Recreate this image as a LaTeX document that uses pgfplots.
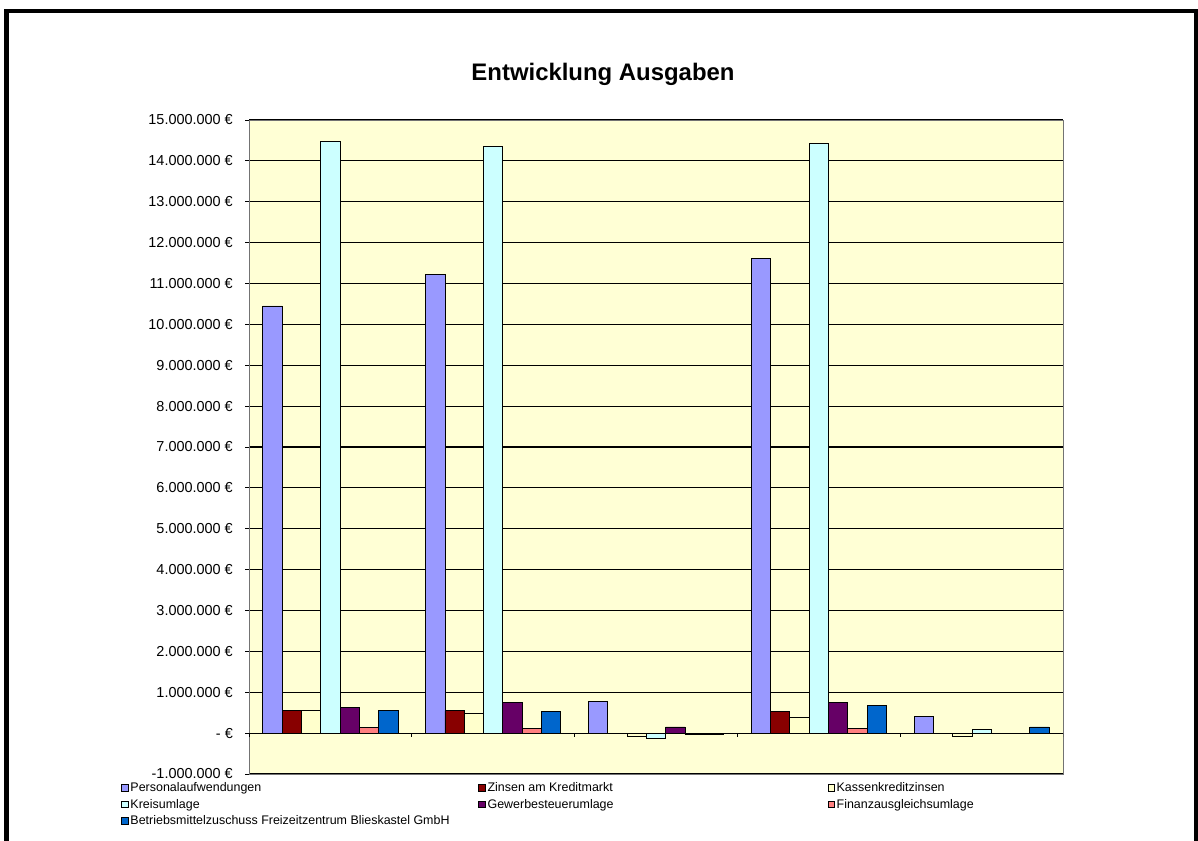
\documentclass[border=0pt]{standalone}
\usepackage{fontspec}
\setmainfont{Liberation Sans}
\usepackage{pgfplots}
\pgfplotsset{compat=1.18}

\definecolor{cPers}{HTML}{9999FF}
\definecolor{cZins}{HTML}{880000}
\definecolor{cKass}{HTML}{FFFFCC}
\definecolor{cKreis}{HTML}{CCFFFF}
\definecolor{cGew}{HTML}{660066}
\definecolor{cFin}{HTML}{FF8080}
\definecolor{cBetr}{HTML}{0066CC}
\definecolor{plotbg}{HTML}{FFFFD5}

\begin{document}
\begin{tikzpicture}[x=1bp,y=1bp]
\useasboundingbox (0,0) rectangle (1198,841);
% frame round the whole chart
\draw[line width=4.5bp] (6.5,-20) -- (6.5,830) -- (1196,830) -- (1196,-20);
\node[font=\bfseries\fontsize{24}{28}\selectfont] at (603,767) {Entwicklung Ausgaben};

\begin{axis}[
  at={(249bp,67bp)}, anchor=south west,
  scale only axis, width=814bp, height=654bp,
  xmin=-0.5, xmax=4.5, ymin=-1000000, ymax=15000000,
  axis background/.style={fill=plotbg},
  axis line style={draw=black!55, line width=0.8bp},
  ybar=0pt, bar width=19.3bp,
  xtick=\empty,
  ytick={-1000000,0,1000000,2000000,3000000,4000000,5000000,6000000,7000000,8000000,9000000,10000000,11000000,12000000,13000000,14000000,15000000},
  yticklabels={-1.000.000 €,- €,1.000.000 €,2.000.000 €,3.000.000 €,4.000.000 €,5.000.000 €,6.000.000 €,7.000.000 €,8.000.000 €,9.000.000 €,10.000.000 €,11.000.000 €,12.000.000 €,13.000.000 €,14.000.000 €,15.000.000 €},
  scaled y ticks=false,
  yticklabel style={font=\fontsize{14.5}{17}\selectfont, inner sep=0pt, xshift=-12bp},
  ytick pos=left, tick align=outside, major tick length=4bp,
  tick style={black, line width=0.8bp},
  ymajorgrids, grid style={black, line width=1.1bp},
  legend columns=3,
  legend cell align=left,
  legend style={at={(-0.157,-0.010)}, anchor=north west, draw=none, fill=none,
    inner sep=0pt, row sep=2bp,
    font=\fontsize{12.5}{14}\selectfont},
  legend image code/.code={\draw[#1, draw=black, line width=0.6bp] (0bp,-3bp) rectangle (6.5bp,3.5bp);},
  every axis plot/.append style={draw=black, line width=0.8bp},
]
\addplot[fill=cPers] coordinates {(0,10450000) (1,11220000) (2,770000) (3,11620000) (4,400000)};
\addlegendentry{\makebox[346bp][l]{Personalaufwendungen}}
\addplot[fill=cZins] coordinates {(0,560000) (1,550000) (2,-15000) (3,540000) (4,-15000)};
\addlegendentry{\makebox[338bp][l]{Zinsen am Kreditmarkt}}
\addplot[fill=cKass] coordinates {(0,550000) (1,480000) (2,-70000) (3,380000) (4,-75000)};
\addlegendentry{Kassenkreditzinsen}
\addplot[fill=cKreis] coordinates {(0,14470000) (1,14350000) (2,-120000) (3,14430000) (4,100000)};
\addlegendentry{\makebox[346bp][l]{Kreisumlage}}
\addplot[fill=cGew] coordinates {(0,620000) (1,760000) (2,150000) (3,760000) (4,0)};
\addlegendentry{\makebox[338bp][l]{Gewerbesteuerumlage}}
\addplot[fill=cFin] coordinates {(0,140000) (1,110000) (2,-40000) (3,110000) (4,0)};
\addlegendentry{Finanzausgleichsumlage}
\addplot[fill=cBetr] coordinates {(0,560000) (1,530000) (2,-20000) (3,670000) (4,150000)};
\addlegendentry{Betriebsmittelzuschuss Freizeitzentrum Blieskastel GmbH}
% category axis at zero with ticks between groups
\draw[black, line width=1.1bp] (axis cs:-0.5,0) -- (axis cs:4.5,0);
\pgfplotsinvokeforeach{-0.5,0.5,1.5,2.5,3.5,4.5}{
  \draw[black, line width=1bp] (axis cs:#1,0) -- ([yshift=-4bp]axis cs:#1,0);
}
\end{axis}
\end{tikzpicture}
\end{document}
